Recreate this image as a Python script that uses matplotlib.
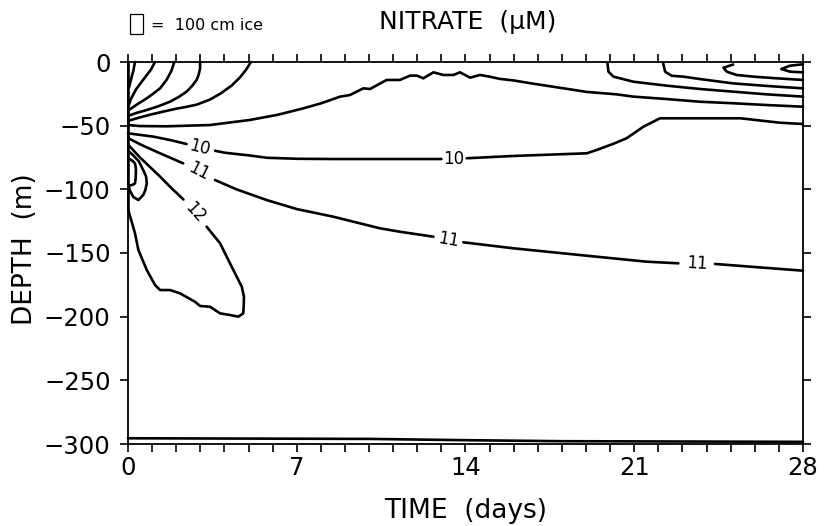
import numpy as np
import matplotlib
matplotlib.use("Agg")
import matplotlib.pyplot as plt
from matplotlib.patches import Rectangle

plt.rcParams['font.family'] = ['DejaVu Sans']

# ---- axis ticks ----
x_ticks = [0, 7, 14, 21, 28]
y_ticks = [0, -50, -100, -150, -200, -250, -300]

# ---- contour paths (time in days, depth in m) ----
# fan of near-surface contours at the left
fan_a_t = [0.29, 0.22, 0.12, 0.04]
fan_a_d = [0, -7, -14, -20]
fan_b_t = [1.12, 0.95, 0.63, 0.35, 0.12, 0.03]
fan_b_d = [0, -6, -14, -21, -29, -34]
fan_c_t = [1.92, 1.8, 1.6, 1.33, 1.0, 0.78, 0.4, 0.05]
fan_c_d = [0, -7, -14, -20.7, -25.5, -28.5, -33, -37.5]
fan_d_t = [2.99, 2.99, 2.93, 2.85, 2.65, 2.43, 2.1, 1.74, 1.25, 0.78, 0.35, 0.05]
fan_d_d = [0, -5, -10, -14, -19, -23.3, -27.5, -31.2, -34.8, -37.7, -40, -42]
fan_e_t = [5.1, 4.9, 4.65, 4.3, 3.85, 3.4, 2.85, 2.4, 2.0, 1.5, 1.0, 0.5, 0.05]
fan_e_d = [0, -6, -12, -18.5, -24.6, -29.5, -33.5, -35.3, -36.7, -38.8, -41, -43.5, -46]

# long contour rising to ~-10 m mid-period
long_f_t = [0.0, 0.5, 1.6, 3.4, 5.06, 6.2, 7.27, 8.0, 8.8, 9.21, 9.76, 10.04, 10.73,
            11.28, 11.7, 11.98, 12.25, 12.67, 13.08, 13.5, 13.77, 14.19, 14.6, 15.0,
            15.4, 16.0, 16.8, 17.9, 19.03, 20.27, 20.97, 22.35, 23.73, 25.1, 26.5, 28.0]
long_f_d = [-49.5, -50.3, -50.5, -49.5, -45.5, -41.5, -36.4, -32.5, -27.2, -25.9, -20.7,
            -21.2, -14.1, -14.1, -10.7, -10.7, -12.8, -8.1, -10.2, -10.2, -8.1, -12.3,
            -10.2, -11.5, -13.2, -14.5, -17, -20.2, -23.5, -25.4, -27.2, -29.1, -31.2,
            -32.4, -33.8, -35.1]

# late-period near-surface contours at the right
late_1_t = [19.89, 19.93, 20.14, 20.97, 22.35, 23.73, 25.1, 26.5, 28.0]
late_1_d = [-1, -7.6, -11.5, -15.5, -18.6, -21.2, -23.3, -25.4, -27.2]
late_2_t = [22.2, 22.28, 22.55, 23.04, 23.73, 25.1, 26.5, 28.0]
late_2_d = [-1, -7.6, -10.8, -11.5, -13.4, -16.8, -18.8, -20.7]
late_3_t = [25.1, 24.7, 24.84, 25.25, 25.94, 26.9, 28.0]
late_3_d = [-2.0, -4.5, -7.6, -10.2, -11.5, -12.8, -14.1]
late_4_t = [28.0, 27.46, 27.1, 27.46, 28.0]
late_4_d = [-1.8, -2.9, -5.5, -7.6, -8.1]

# 10 uM contour (NaN = gap for label)
c10_t = [0.0, 0.4, 1.05, 1.8, 2.43, np.nan,
         3.61, 4.0, 4.51, 5.0, 5.75, 7.0, 8.5, 10.45, 13.0, np.nan,
         14.05, 15.98, 19.03, 19.44, 20.1, 20.68, 21.38, 22.07, 24.28, 25.4, 27.05, 28.0]
c10_d = [-56, -57, -58.6, -61.5, -64.4, np.nan,
         -69.7, -71.2, -72.3, -73.3, -75.2, -76, -76.2, -76.2, -76.2, np.nan,
         -75.6, -73.8, -71.7, -69.1, -64.5, -59.9, -50.8, -44.2, -44.2, -44.2, -47.7, -48.7]

# 11 uM contour
c11_t = [0.02, 0.6, 1.33, 2.29, np.nan,
         3.61, 4.5, 5.75, 7.0, 8.52, 10.45, 11.28, 12.67, np.nan,
         13.91, 15.98, 18.75, 21.5, 22.83, np.nan,
         24.35, 26.0, 28.0]
c11_d = [-60, -65.5, -71.7, -79.6, np.nan,
         -92.7, -100, -108.4, -115.5, -121.5, -130.6, -133.3, -137.2, np.nan,
         -141.6, -146.3, -151.6, -156.8, -158.1, np.nan,
         -158.6, -161, -163.9]

# 12 uM contour
c12_t = [0.02, 0.5, 1.33, 1.8, 2.3, np.nan,
         3.26, 3.82, 4.23, 4.72, 4.81, 4.8, 4.78, 4.58, 4.23, 3.82, 3.4, 2.99, 2.78,
         2.16, 1.74, 1.33, 1.12, 0.78, 0.43, 0.29, 0.01]
c12_d = [-65.2, -75, -90, -99, -108, np.nan,
         -129.3, -142.4, -158.1, -176.5, -184.3, -192, -197.4, -200, -198.7, -197.4,
         -192.2, -191.6, -188.3, -181.7, -179.1, -179.1, -175.1, -163.4, -147.6,
         -134.5, -116.2]

# small closed contours near t=0
loop_out_t = [0.02, 0.2, 0.45, 0.63, 0.75, 0.78, 0.72, 0.63, 0.43, 0.22, 0.08, 0.02]
loop_out_d = [-70, -73, -78, -84.8, -90, -95.3, -100.5, -104.5, -108.4, -106, -101, -97]
loop_in_t = [0.05, 0.18, 0.29, 0.33, 0.32, 0.29, 0.18, 0.05]
loop_in_d = [-76, -77.5, -79.6, -84, -91, -95.3, -96.6, -97]

# contour along the left boundary
edge_t = [0, 0]
edge_d = [0, -116]

# deep contour near the bottom
deep_t = [0, 10, 12, 14, 18, 28]
deep_d = [-295.5, -296, -296.5, -297, -297.8, -298.3]

# contour labels: text, time, depth, rotation
lab_text = ['10', '10', '11', '11', '11', '12']
lab_t = [2.98, 13.52, 2.95, 13.3, 23.6, 2.78]
lab_d = [-67.3, -76.2, -86.0, -139.6, -158.3, -118.0]
lab_rot = [-14, 0, -27, -10, -3, -48]

fig = plt.figure(figsize=(8.25, 5.26), dpi=100)
ax = fig.add_axes([128/825, 1-444/526, 675/825, 382/526])

lw = 1.9
paths = [(fan_a_t, fan_a_d), (fan_b_t, fan_b_d), (fan_c_t, fan_c_d), (fan_d_t, fan_d_d),
         (fan_e_t, fan_e_d), (long_f_t, long_f_d), (late_1_t, late_1_d),
         (late_2_t, late_2_d), (late_3_t, late_3_d), (late_4_t, late_4_d),
         (c10_t, c10_d), (c11_t, c11_d), (c12_t, c12_d),
         (loop_out_t, loop_out_d), (loop_in_t, loop_in_d), (edge_t, edge_d),
         (deep_t, deep_d)]
for tt, dd in paths:
    ax.plot(tt, dd, color='black', lw=lw, solid_capstyle='round', clip_on=False)

for s, tt, dd, r in zip(lab_text, lab_t, lab_d, lab_rot):
    ax.text(tt, dd, s, fontsize=12, rotation=r, ha='center', va='center',
            rotation_mode='anchor')

ax.set_xlim(0, 28)
ax.set_ylim(-300, 0)
ax.set_xticks(x_ticks)
ax.set_xticks(np.arange(0, 29, 1), minor=True)
ax.set_yticks(y_ticks)
ax.set_yticklabels(['0' if v == 0 else '\u2212' + str(-v) for v in y_ticks])
ax.tick_params(axis='both', which='both', direction='out', top=True, right=True,
               length=5.5, width=1.2, labelsize=17.5)
ax.tick_params(axis='x', which='major', pad=3)
ax.tick_params(axis='y', which='major', pad=7)
for sp in ax.spines.values():
    sp.set_linewidth(1.3)

ax.set_xlabel('TIME  (days)', fontsize=19)
ax.xaxis.label.set_va('center')
ax.xaxis.set_label_coords(0.5, (444 - 511) / 382)
ax.set_ylabel('DEPTH  (m)', fontsize=19)
ax.yaxis.label.set_va('center')
ax.yaxis.set_label_coords((25 - 128) / 675, 0.51)

fig.text(468/825, 1-22/526, 'NITRATE  (\u00b5M)', fontsize=18, ha='center', va='center')
fig.patches.append(Rectangle((130/825, 1-34/526), 13/825, 20/526, transform=fig.transFigure,
                             fill=False, edgecolor='black', lw=0.9))
fig.text(151/825, 1-26/526, '=  100 cm ice', fontsize=11.5, ha='left', va='center')

fig.savefig('out.png', dpi=100)
